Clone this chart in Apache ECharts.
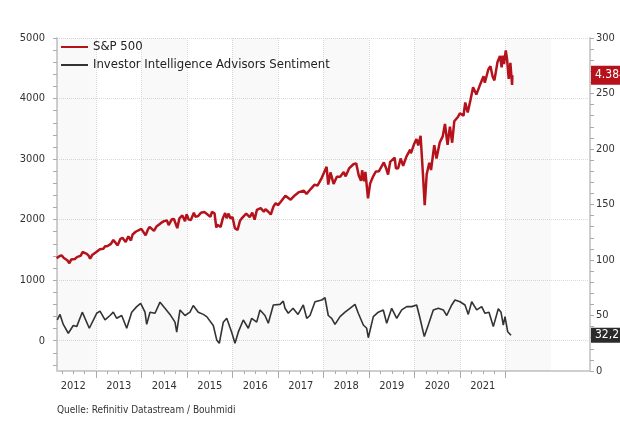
<!DOCTYPE html>
<html>
<head>
<meta charset="utf-8">
<script src="https://cdn.jsdelivr.net/npm/echarts@6/dist/echarts.min.js"></script>
<style>
  html, body { margin: 0; padding: 0; background: #fff; }
  #chart { width: 620px; height: 421px; }
</style>
</head>
<body>
<div id="chart"></div>
<script>
// S&P 500 (left axis)
const spxDates = [
  '2012-02-20','2012-03-15','2012-04-01','2012-04-15','2012-05-01','2012-05-15','2012-06-01','2012-06-15',
  '2012-07-01','2012-07-15','2012-08-01','2012-08-15','2012-09-01','2012-09-15','2012-10-01','2012-10-15',
  '2012-11-01','2012-11-15','2012-12-01','2012-12-15','2013-01-01','2013-01-15','2013-02-01','2013-02-15',
  '2013-03-01','2013-03-15','2013-04-01','2013-04-15','2013-05-01','2013-05-20','2013-06-01','2013-06-24',
  '2013-07-15','2013-08-01','2013-08-27','2013-09-18','2013-10-08','2013-10-22','2013-11-15','2013-12-01',
  '2013-12-31','2014-01-15','2014-02-03','2014-02-20','2014-03-07','2014-04-11','2014-05-01','2014-05-15',
  '2014-06-10','2014-07-01','2014-07-24','2014-08-07','2014-09-01','2014-09-18','2014-10-15','2014-11-01',
  '2014-11-25','2014-12-16','2014-12-29','2015-01-15','2015-02-01','2015-02-25','2015-03-10','2015-04-01',
  '2015-04-24','2015-05-20','2015-06-15','2015-07-08','2015-07-20','2015-08-10','2015-08-24','2015-09-01',
  '2015-09-28','2015-10-15','2015-11-03','2015-11-15','2015-12-01','2015-12-15','2016-01-01','2016-01-20',
  '2016-02-11','2016-03-01','2016-03-15','2016-04-20','2016-05-19','2016-06-08','2016-06-27','2016-07-15',
  '2016-08-15','2016-09-09','2016-09-22','2016-10-15','2016-11-04','2016-11-25','2016-12-13','2017-01-01',
  '2017-01-25','2017-03-01','2017-04-13','2017-05-15','2017-06-19','2017-07-26','2017-08-18','2017-09-20',
  '2017-10-20','2017-11-15','2017-12-18','2018-01-02','2018-01-26','2018-02-08','2018-02-26','2018-03-23',
  '2018-04-02','2018-04-18','2018-05-15','2018-06-12','2018-06-28','2018-07-25','2018-08-29','2018-09-20',
  '2018-10-11','2018-10-29','2018-11-07','2018-11-23','2018-12-03','2018-12-24','2019-01-10','2019-02-01',
  '2019-02-25','2019-03-22','2019-04-30','2019-05-20','2019-06-03','2019-06-20','2019-07-26','2019-08-05',
  '2019-08-23','2019-09-12','2019-10-02','2019-10-28','2019-11-27','2019-12-03','2019-12-27','2020-01-17',
  '2020-01-31','2020-02-19','2020-03-09','2020-03-23','2020-04-08','2020-04-29','2020-05-13','2020-06-08',
  '2020-06-26','2020-07-22','2020-08-15','2020-09-02','2020-09-23','2020-10-12','2020-10-30','2020-11-16',
  '2020-12-15','2020-12-31','2021-01-29','2021-02-12','2021-03-04','2021-03-26','2021-04-16','2021-05-12',
  '2021-06-15','2021-07-09','2021-07-19','2021-08-16','2021-09-02','2021-09-20','2021-10-04','2021-10-29',
  '2021-11-18','2021-12-01','2021-12-10','2021-12-20','2022-01-03','2022-01-13','2022-01-27','2022-02-09',
  '2022-02-18','2022-02-23','2022-02-25'
];
const spxValues = [
  1362,1400,1410,1370,1400,1330,1280,1340,
  1360,1350,1380,1405,1405,1465,1445,1440,
  1410,1355,1415,1425,1460,1475,1510,1520,
  1520,1560,1560,1555,1600,1665,1640,1575,
  1680,1700,1630,1725,1655,1755,1800,1805,
  1848,1845,1740,1830,1880,1815,1885,1870,
  1950,1975,1985,1910,2005,2010,1860,2020,
  2070,1975,2090,2000,1995,2115,2045,2060,
  2115,2125,2085,2045,2128,2105,1870,1915,
  1880,2020,2110,2025,2100,2020,2045,1860,
  1830,1980,2020,2100,2040,2115,2000,2160,
  2190,2130,2175,2130,2085,2215,2270,2240,
  2300,2395,2330,2400,2455,2480,2425,2505,
  2575,2565,2690,2695,2872,2580,2780,2590,
  2580,2710,2710,2785,2715,2845,2915,2930,
  2730,2640,2815,2635,2790,2350,2595,2705,
  2795,2800,2945,2840,2745,2955,3025,2845,
  2850,3010,2890,3040,3155,3095,3240,3330,
  3225,3386,2745,2237,2750,2940,2820,3230,
  3010,3275,3375,3580,3237,3535,3270,3625,
  3695,3756,3715,3935,3770,3975,4185,4065,
  4250,4370,4260,4480,4535,4360,4300,4605,
  4705,4515,4710,4570,4795,4660,4325,4590,
  4350,4225,4384
];

// Investor Intelligence Advisors Sentiment (right axis), decimal years
const iiYears = [
  2012.149,2012.209,2012.281,2012.391,2012.501,2012.576,2012.699,2012.853,
  2013.015,2013.088,2013.198,2013.308,2013.380,2013.455,2013.565,2013.675,
  2013.785,2013.895,2013.982,2014.077,2014.114,2014.187,2014.297,2014.407,
  2014.516,2014.626,2014.736,2014.774,2014.846,2014.956,2015.066,2015.138,
  2015.248,2015.358,2015.433,2015.578,2015.653,2015.710,2015.798,2015.873,
  2015.982,2016.055,2016.127,2016.237,2016.347,2016.422,2016.532,2016.604,
  2016.714,2016.787,2016.897,2017.044,2017.116,2017.154,2017.226,2017.330,
  2017.440,2017.556,2017.631,2017.703,2017.813,2017.960,2018.033,2018.105,
  2018.180,2018.253,2018.363,2018.473,2018.582,2018.692,2018.765,2018.875,
  2018.949,2018.985,2019.095,2019.204,2019.314,2019.389,2019.499,2019.609,
  2019.719,2019.829,2019.938,2020.048,2020.121,2020.215,2020.303,2020.413,
  2020.523,2020.633,2020.708,2020.818,2020.890,2021.000,2021.110,2021.182,
  2021.257,2021.367,2021.477,2021.549,2021.637,2021.732,2021.842,2021.901,
  2021.952,2021.989,2022.048,2022.121
];
const iiValues = [
  46,51,42,34,41,40,53,38.5,
  52,54,46,50,53,47.5,50,38.5,
  53,58,61,53,42,53,52,62,
  56.5,51,44,35,55,50,53,59,
  53,51,49,41,28,25,44,47.5,
  35,25,35,46,38.5,47.5,44,55,
  50,43,59.5,60,63,56.5,52,56.5,
  51,59.5,47.5,50,62.4,64,66,50,
  47.5,42,49,53,56.5,60,52,41.4,
  38.5,30,49,53,55,43,56.5,47.5,
  55,58,58,59.5,47.5,31,41.4,55,
  56.5,55,50,59.5,64,62.4,59.5,51,
  62.4,55,58,52,53,40,56,53,
  41.4,49,35.4,32.2
];

const leftLabels = [0, 1000, 2000, 3000, 4000, 5000];
const leftMinorTicks = [-400, -200, 0, 200, 400, 600, 800, 1000, 1200, 1400, 1600, 1800, 2000, 2200, 2400,
  2600, 2800, 3000, 3200, 3400, 3600, 3800, 4000, 4200, 4400, 4600, 4800, 5000];
const yearTicks = [2013, 2014, 2015, 2016, 2017, 2018, 2019, 2020, 2021, 2022];
const yearLabels = [2012, 2013, 2014, 2015, 2016, 2017, 2018, 2019, 2020, 2021];
const shadedYears = [2012, 2014, 2016, 2018, 2020, 2022];

const X_MIN = 2012.143, X_MAX = 2023.857;

function toYear(s) {
  const d = new Date(s + 'T00:00:00Z');
  const y = d.getUTCFullYear();
  const a = Date.UTC(y, 0, 1), b = Date.UTC(y + 1, 0, 1);
  return y + (d.getTime() - a) / (b - a);
}

const spxData = spxDates.map((d, i) => [toYear(d), spxValues[i]]);
const iiData = iiYears.map((y, i) => [y, iiValues[i]]);

const quarterTicks = [];
for (let y = 2012; y < 2022; y++) {
  [0.25, 0.5, 0.75, 1].forEach(q => quarterTicks.push(y + q));
}

const FONT = '"DejaVu Sans Condensed", "DejaVu Sans", sans-serif';
const gridColor = '#d9d9d9';
const hidden = 'rgba(0,0,0,0)';

const chart = echarts.init(document.getElementById('chart'), null, { renderer: 'canvas' });

chart.setOption({
  animation: false,
  backgroundColor: '#ffffff',
  textStyle: { fontFamily: FONT },
  title: {
    text: 'Quelle: Refinitiv Datastream / Bouhmidi',
    left: 57,
    top: 405,
    padding: 0,
    textStyle: { fontSize: 10, fontWeight: 'normal', color: '#333', fontFamily: FONT }
  },
  legend: {
    orient: 'vertical',
    left: 61,
    top: 39,
    padding: 0,
    itemGap: 2,
    itemWidth: 27,
    itemHeight: 2,
    icon: 'rect',
    textStyle: { fontSize: 13, color: '#222', fontFamily: FONT, lineHeight: 16 },
    data: ['S&P 500', 'Investor Intelligence Advisors Sentiment']
  },
  grid: { left: 57, right: 30, top: 38, bottom: 50, containLabel: false },
  xAxis: [
    {
      type: 'value',
      min: X_MIN,
      max: X_MAX,
      position: 'bottom',
      axisLine: { onZero: false, lineStyle: { color: '#cfcfcf', width: 2 } },
      axisTick: { customValues: yearTicks, length: 7, lineStyle: { color: '#aaa' } },
      axisLabel: {
        customValues: yearLabels.map(y => y + 0.5),
        formatter: v => String(Math.floor(v)),
        color: '#333',
        fontSize: 11,
        margin: 10
      },
      splitLine: { show: true, lineStyle: { type: 'dotted', color: gridColor } }
    },
    {
      type: 'value',
      min: X_MIN,
      max: X_MAX,
      position: 'bottom',
      axisLine: { show: false, onZero: false },
      axisTick: { customValues: quarterTicks, length: 3, lineStyle: { color: '#aaa' } },
      axisLabel: { show: false },
      splitLine: { show: false }
    }
  ],
  yAxis: [
    {
      type: 'value',
      position: 'left',
      min: -500,
      max: 5000,
      axisLine: { show: true, onZero: false, lineStyle: { color: '#cfcfcf', width: 2 } },
      axisTick: { customValues: leftLabels, length: 4, lineStyle: { color: '#aaa' } },
      axisLabel: { customValues: leftLabels, formatter: v => String(v), color: '#333', fontSize: 11, margin: 12 },
      splitLine: { show: true, lineStyle: { type: 'dotted', color: gridColor } }
    },
    {
      type: 'value',
      position: 'right',
      min: 0,
      max: 300,
      interval: 10,
      axisLine: { show: true, onZero: false, lineStyle: { color: '#cfcfcf', width: 2 } },
      axisTick: { show: true, length: 4, lineStyle: { color: '#aaa' } },
      axisLabel: {
        color: '#333',
        fontSize: 11,
        margin: 6,
        formatter: v => (v % 50 === 0 ? String(v) : '')
      },
      splitLine: { show: false }
    },
    {
      type: 'value',
      position: 'left',
      min: -500,
      max: 5000,
      axisLine: { show: false, onZero: false },
      axisTick: { customValues: leftMinorTicks, length: 4, lineStyle: { color: '#aaa' } },
      axisLabel: { show: false },
      splitLine: { show: false }
    }
  ],
  series: [
    {
      name: 'S&P 500',
      type: 'line',
      xAxisIndex: 0,
      yAxisIndex: 0,
      data: spxData,
      showSymbol: false,
      color: '#b5121b',
      lineStyle: { width: 2.5, color: '#b5121b' },
      clip: false,
      z: 3,
      markArea: {
        silent: true,
        itemStyle: { color: 'rgba(0,0,0,0.025)' },
        data: shadedYears.map(y => [{ xAxis: Math.max(y, X_MIN) }, { xAxis: Math.min(y + 1, X_MAX) }])
      },
      markLine: {
        silent: true,
        symbol: ['none', 'none'],
        lineStyle: { color: hidden, width: 1, type: 'solid' },
        label: {
          show: true,
          position: 'end',
          distance: 1,
          formatter: '4.384',
          color: '#fff',
          fontSize: 12,
          backgroundColor: '#b5121b',
          padding: [4, 4, 3, 4]
        },
        data: [{ yAxis: spxValues[spxValues.length - 1] }]
      }
    },
    {
      name: 'Investor Intelligence Advisors Sentiment',
      type: 'line',
      xAxisIndex: 0,
      yAxisIndex: 1,
      data: iiData,
      showSymbol: false,
      color: '#333',
      lineStyle: { width: 1.6, color: '#333' },
      clip: false,
      z: 2,
      markLine: {
        silent: true,
        symbol: ['none', 'none'],
        lineStyle: { color: hidden, width: 1, type: 'solid' },
        label: {
          show: true,
          position: 'end',
          distance: 1,
          formatter: '32,2',
          color: '#fff',
          fontSize: 12,
          backgroundColor: '#2b2b2b',
          padding: [2, 4, 1, 4]
        },
        data: [{ yAxis: iiValues[iiValues.length - 1] }]
      }
    }
  ]
});
</script>
</body>
</html>
